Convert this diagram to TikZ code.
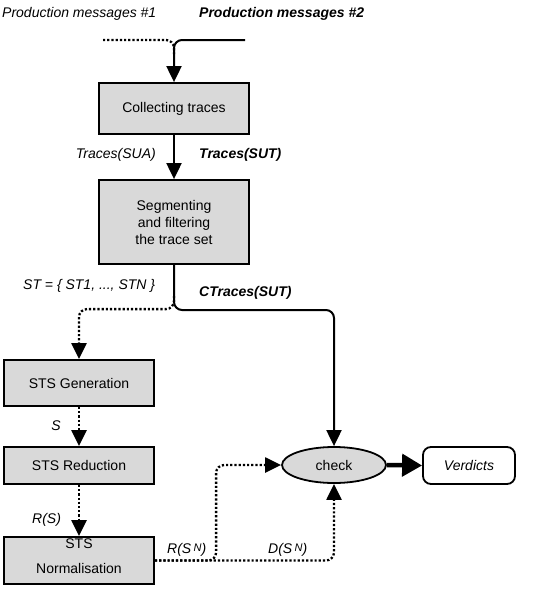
\documentclass[tikz,border=0pt]{standalone}
\usepackage{fontspec}
\setmainfont{Liberation Sans}
\usetikzlibrary{arrows.meta,shapes.geometric,calc}
\definecolor{boxgray}{HTML}{D9D9D9}
\begin{document}
\begin{tikzpicture}[x=1pt,y=-1pt,
  font=\fontsize{14}{17}\selectfont,
  proc/.style={draw, line width=1.8pt, fill=boxgray, minimum width=150pt, align=center, inner sep=0pt},
  lbl/.style={font=\fontsize{14}{17}\selectfont\itshape, inner sep=0pt},
  blbl/.style={font=\fontsize{14}{17}\selectfont\bfseries\itshape, inner sep=0pt},
  solidarr/.style={line width=2pt, -{Triangle[width=15pt,length=16pt]}, rounded corners=8pt},
  dotarr/.style={line width=2.3pt, dash pattern=on 2.2pt off 2pt, -{Triangle[width=15pt,length=16pt]}, rounded corners=8pt},
]
\useasboundingbox (0,0) rectangle (550,589);

% nodes
\node[proc, minimum height=51pt] (collect) at (174,108.5) {Collecting traces};
\node[proc, minimum height=84pt] (seg) at (174,222) {Segmenting\\and filtering\\the trace set};
\node[proc, minimum height=46pt] (gen) at (79,383) {STS Generation};
\node[proc, minimum height=37pt] (red) at (79,465.5) {STS Reduction};
\node[proc, minimum height=47pt] (norm) at (79,560.5) {};
\node[align=center, inner sep=0pt] (normtxt) at (79,556) {STS\\[8pt]Normalisation};
\node[draw, ellipse, line width=1.8pt, fill=boxgray, minimum width=104pt, minimum height=36pt, inner sep=0pt] (check) at (334,465) {check};
\node[draw, rounded corners=8pt, line width=1.8pt, fill=white, minimum width=92pt, minimum height=37pt, inner sep=0pt, font=\fontsize{14}{17}\selectfont\itshape] (verd) at (469,465.5) {Verdicts};

% coordinates
\coordinate (pm1) at (103,40);
\coordinate (pm2) at (245,40);
\coordinate (split) at (174,310);
\coordinate (splitd) at (174,296);

% connectors
\draw[line width=2.3pt, dash pattern=on 2.2pt off 2pt, rounded corners=8pt] (pm1) -| ($(collect.north)+(0,-28)$);
\draw[solidarr] (pm2) -| (collect.north);
\draw[solidarr] (collect.south) -- (seg.north);
\draw[solidarr] (seg.south) -- (split) -| (check.north);
\draw[dotarr] (splitd) |- ($(gen.north)+(40,-50)$) -| (gen.north);
\draw[dotarr] (gen.south) -- (red.north);
\draw[dotarr] (red.south) -- (norm.north);
\draw[dotarr] (norm.east) -| ($(check.west)+(-65,0)$) -- (check.west);
\draw[dotarr] (norm.east) -| (check.south);
\draw[line width=4.5pt, -{Triangle[width=22pt,length=20pt]}] (check.east) -- (verd.west);

% labels
\node[lbl, anchor=west] (lpm1) at (2,14) {Production messages \#1};
\node[blbl, anchor=west] (lpm2) at (199,14) {Production messages \#2};
\node[lbl, anchor=east] (lsua) at (156,155) {Traces(SUA)};
\node[blbl, anchor=west] (lsut) at (199,155) {Traces(SUT)};
\node[lbl, anchor=west] (lst) at (23,286) {ST = \{ ST1, ..., STN \}};
\node[blbl, anchor=west] (lct) at (199,293) {CTraces(SUT)};
\node[lbl] (ls) at (56,426) {S};
\node[lbl, anchor=west] (lrs) at (32,520) {R(S)};
\node[lbl, anchor=west] (lrsn) at (167,550) {R(S\,\raisebox{2pt}{\fontsize{11}{13}\selectfont N})};
\node[lbl, anchor=west] (ldsn) at (268,550) {D(S\,\raisebox{2pt}{\fontsize{11}{13}\selectfont N})};
\end{tikzpicture}
\end{document}
